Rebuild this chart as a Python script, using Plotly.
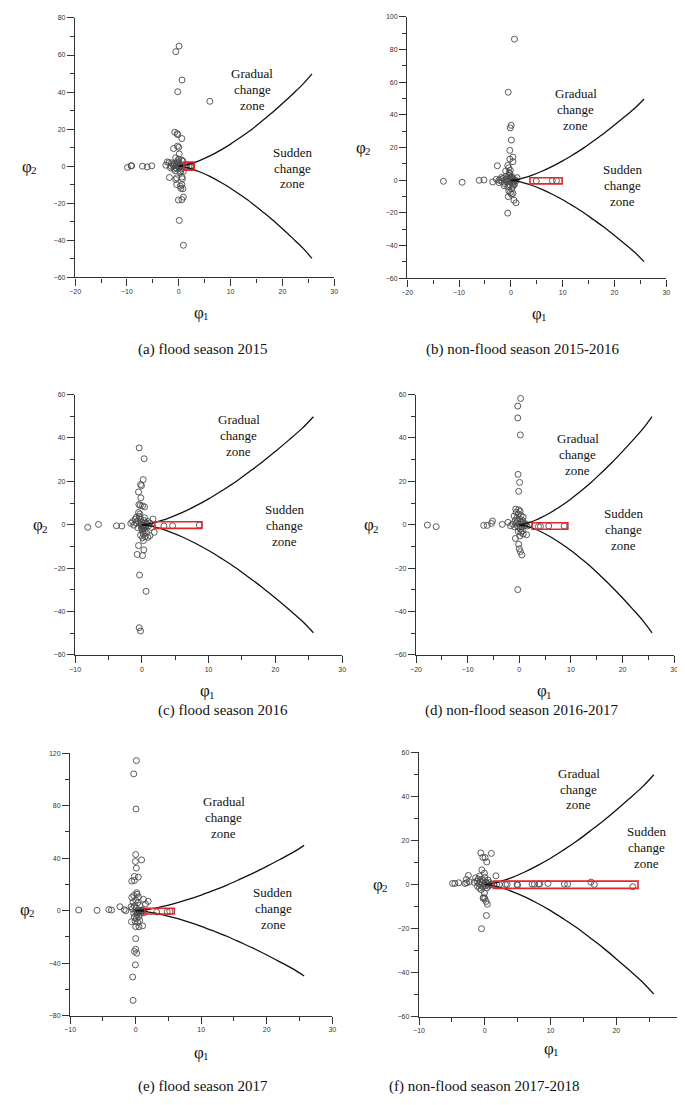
import plotly.graph_objects as go

W, H = 685, 1105

# ---------------- data ----------------
PTS_A = [(0.06, 64.8), (-0.57, 61.8), (0.63, 46.5), (-0.2, 40.2), (6.0, 35.0), (-0.76, 18.3),
         (-0.3, 17.6), (-0.2, 17.0), (0.6, 14.9), (-1.0, 9.5), (-0.25, 10.8), (0.0, 10.2),
         (0.1, 6.6), (-0.6, 4.5), (0.0, 3.8), (0.6, 3.2), (0.8, 2.7),
         (-2.2, 2.3), (-2.5, 0.5), (-1.6, -0.9), (-1.2, 0.9), (-0.8, 1.3), (-0.5, 0.4), (-0.3, 2.0),
         (0.1, -0.5), (0.3, 1.0), (0.5, -1.5), (-1.0, 0.2), (-1.4, 1.8), (-0.6, -0.8), (-0.2, 3.0),
         (0.2, 0.3), (0.4, -2.6), (-0.9, -1.6), (-0.4, -1.2), (0.0, 1.5), (0.3, -3.3), (-0.7, -2.5),
         (-0.1, -0.3), (0.6, -0.6), (0.9, -2.8), (-1.9, 1.9), (-1.5, 0.0),
         (-1.8, -6.1), (-0.6, -7.2), (-0.4, -6.3), (0.6, -5.9), (0.7, -6.8), (-0.4, -9.9),
         (0.3, -10.8), (0.6, -10.0), (0.8, -12.2), (0.4, -12.0), (0.9, -16.7), (0.6, -18.1),
         (-0.06, -18.3), (0.1, -29.3), (0.9, -42.7),
         (-9.9, -0.7), (-9.2, 0.2), (-9.1, 0.2), (-7.0, 0.0), (-6.1, -0.4), (-5.2, 0.2),
         (1.5, 0.0), (1.9, -0.2), (2.2, -0.2), (2.4, 0.0)]

PTS_B = [(0.7, 86.4), (-0.5, 53.9), (0.06, 33.7), (-0.1, 32.1), (0.1, 24.6), (-0.2, 18.3),
         (0.4, 14.2), (-0.2, 13.0), (0.4, 11.4), (-0.6, 9.1), (-0.4, 7.7), (-2.6, 8.9),
         (-1.0, 5.7), (-0.3, 4.7), (-0.1, 6.1), (1.2, 1.6), (0.6, -2.4), (-0.4, -6.5),
         (-0.1, -7.5), (0.1, -8.5), (0.4, -8.1), (-0.5, -10.0), (0.6, -12.2), (1.0, -13.8),
         (-0.6, -20.1), (-13.0, -0.6), (-9.4, -1.2), (-6.1, 0.0), (-5.2, 0.2), (-3.5, -1.0),
         (-2.8, 0.6), (-2.3, 0.0), (4.9, -0.4), (8.0, -0.2), (8.8, -0.2),
         (-2.0, 0.5), (-1.7, -0.8), (-1.5, 1.2), (-1.2, -2.0), (-1.0, 0.3), (-0.9, 2.5),
         (-0.8, -1.2), (-0.7, 1.0), (-0.5, -0.4), (-0.4, 3.0), (-0.3, 0.8), (-0.2, -2.8),
         (-0.1, 1.8), (0.0, -0.5), (0.1, 0.4), (0.2, 2.2), (0.3, -1.6), (0.4, -3.5), (0.5, 0.6),
         (0.6, -0.9), (0.8, 0.2), (-0.6, -4.0), (0.2, -5.0), (-1.3, -3.3), (-0.2, 4.0),
         (0.7, -2.6), (1.0, -0.3), (-2.3, -1.4), (-1.8, 1.8), (0.3, 1.2)]

PTS_C = [(-0.4, 35.4), (0.34, 30.4), (0.2, 20.8), (-0.2, 18.5), (-0.05, 18.0), (-0.5, 15.1),
         (-0.15, 12.4), (-0.44, 9.3), (-0.24, 8.9), (0.1, 8.7), (0.4, 8.2), (-0.5, 5.6),
         (-0.3, 5.0), (1.66, 2.6), (-1.66, 0.6), (-1.4, 1.4), (-1.0, 2.6), (-0.5, -9.6),
         (0.3, -11.6), (-0.7, -13.7), (0.1, -14.2), (-0.34, -23.2), (0.63, -30.7), (-0.4, -47.5),
         (-0.2, -49.0), (-8.1, -1.2), (-6.5, 0.15), (-3.8, -0.5), (-3.0, -0.6), (3.3, -0.6),
         (4.6, -0.5), (8.6, -0.15), (1.0, -0.5), (1.4, -1.2), (1.85, -3.5), (0.9, -5.8),
         (1.2, -5.0), (0.24, -7.3),
         (-0.8, 3.5), (-0.6, 1.8), (-0.4, 3.8), (-0.3, 0.5), (-0.2, 2.6), (-0.1, -1.0),
         (0.0, 1.2), (0.0, -2.0), (0.1, -3.0), (0.2, -0.3), (0.2, -4.2), (0.3, -1.5), (0.3, 2.0),
         (0.4, -2.6), (0.5, 0.8), (0.5, -5.5), (0.6, -0.8), (0.7, -3.8), (0.8, 0.3), (-0.6, -1.4),
         (-0.9, 0.9), (-1.2, -0.2), (0.1, -6.0), (-0.2, -4.8), (0.9, 1.5), (1.2, 0.8), (0.4, 3.2),
         (0.15, -1.0), (0.25, -1.8), (0.35, -0.6), (-0.1, 0.3)]

PTS_D = [(0.25, 58.2), (-0.3, 54.7), (-0.3, 49.2), (0.2, 41.4), (-0.25, 23.2), (0.06, 19.5),
         (-0.13, 15.4), (-0.7, 7.2), (-0.13, 6.9), (0.76, 3.5), (-0.76, -6.3), (-0.13, -9.0),
         (0.0, -11.1), (0.2, -12.4), (0.5, -13.9), (-0.3, -29.9), (-17.8, -0.15), (-16.1, -0.9),
         (-6.9, -0.3), (-6.2, -0.3), (-5.4, 0.6), (-5.2, 1.7), (-3.3, 0.15), (-2.2, 1.1),
         (-1.7, -0.5), (3.7, -0.8), (4.1, -0.8), (5.7, -0.6), (8.7, -0.6), (1.4, -4.6),
         (0.76, -4.3), (0.3, -3.5), (1.9, -0.15),
         (-1.0, 4.0), (-0.8, 2.0), (-0.6, 0.8), (-0.5, 3.0), (-0.4, -0.5), (-0.3, 1.6),
         (-0.2, 5.0), (-0.1, -1.2), (0.0, 0.5), (0.1, 2.6), (0.2, -2.0), (0.3, 0.2), (0.4, 1.2),
         (0.5, -0.9), (0.6, -2.8), (0.8, 0.6), (1.0, -0.3), (1.2, 0.4), (-1.3, 0.3), (-0.9, -1.0),
         (0.15, 6.2), (-0.6, 5.8), (0.35, 4.2), (0.1, -5.2), (-0.2, -3.2), (0.7, 1.8), (1.5, -0.6)]

PTS_E = [(0.1, 114.4), (-0.3, 104.3), (0.05, 77.5), (0.0, 42.8), (0.9, 38.7), (-0.05, 37.5),
         (0.1, 32.4), (-0.2, 26.1), (0.4, 25.6), (-0.6, 22.5), (-0.2, 23.0), (0.15, 13.7),
         (1.2, 8.6), (1.9, 7.1), (1.5, 5.1), (-0.65, -8.4), (0.0, -12.2), (0.5, -12.2),
         (1.05, -11.6), (0.0, -21.3), (0.0, -29.4), (0.15, -32.4), (-0.2, -31.1), (-0.05, -41.3),
         (-0.45, -50.6), (-0.4, -68.4), (-8.7, 0.5), (-5.9, 0.25), (-4.1, 0.8), (-3.7, 0.5),
         (-2.4, 3.0), (-1.75, 0.8), (-1.5, 0.0), (3.2, -1.0), (4.8, -0.8), (5.2, -0.5),
         (-0.6, 10.0), (-0.3, 11.5), (0.2, 12.5), (0.4, 10.5), (-0.4, 6.5), (0.0, 8.0),
         (0.3, 6.0), (0.6, 4.0), (-0.2, 3.5), (0.1, 2.0), (-0.5, 1.5), (0.4, 0.5), (0.0, -1.0),
         (0.2, -3.0), (-0.3, -2.0), (0.5, -4.5), (0.1, -6.0), (-0.2, -5.0), (0.6, -7.5),
         (0.3, -9.0), (0.8, -2.0), (1.0, 0.5), (1.3, -1.5), (-0.7, 3.0), (-0.1, -8.0),
         (0.35, -1.5), (0.5, -0.8), (0.7, -0.5), (0.9, -0.3), (1.1, -0.2), (0.25, -0.9)]

PTS_F = [(-0.6, 14.3), (1.0, 14.1), (-0.3, 12.3), (0.05, 12.2), (0.3, 10.2), (-0.45, 6.6),
         (-0.05, 5.1), (1.7, 3.9), (-2.5, 4.1), (-2.8, 2.3), (-4.9, 0.45), (-4.55, 0.45),
         (-3.95, 0.75), (-3.0, 0.45), (-2.75, 0.75), (-2.35, 1.2), (-1.6, 0.9), (-0.55, -2.4),
         (-0.2, -5.9), (-0.05, -3.9), (0.2, -7.7), (-0.25, -6.3), (0.25, -14.1), (-0.5, -20.1),
         (1.8, 0.0), (2.2, 0.0), (3.15, 0.0), (3.4, 0.0), (4.9, 0.0), (5.0, -0.3), (7.2, 0.15),
         (7.55, 0.15), (8.2, 0.15), (8.35, 0.3), (9.6, 0.45), (12.1, 0.15), (12.6, 0.15),
         (16.15, 1.05), (16.65, 0.0), (22.5, -1.05), (0.6, 0.0), (1.0, 0.0), (1.4, 0.0),
         (-1.4, 3.0), (-1.2, 1.5), (-1.0, 2.5), (-0.9, 0.4), (-0.8, 3.8), (-0.7, 1.2),
         (-0.6, -0.4), (-0.5, 2.2), (-0.4, 0.8), (-0.3, -1.0), (-0.2, 1.8), (-0.1, 0.2),
         (0.0, 3.2), (0.1, -0.6), (0.2, 1.0), (0.3, -1.6), (0.4, 0.4), (0.5, 2.0), (0.6, -0.8),
         (-1.1, -0.8), (-0.8, -1.6), (0.7, 0.8), (0.4, -9.0), (0.0, -6.3)]

# boundary curves (gradual / sudden change zones)
CURVE_X = [0, 1, 2, 3, 4, 6, 8, 10, 12, 14, 16, 18, 20, 22, 24, 25.7]
CURVE_UPPER = [0, 0.38, 1.07, 1.96, 3.02, 5.54, 8.54, 11.9, 15.7, 19.7, 24.2, 28.8, 33.8, 39.0, 44.4, 49.8]
CURVE_LOWER = [0, -0.38, -1.07, -1.96, -3.02, -5.54, -8.54, -11.9, -15.7, -19.7, -24.2, -28.8, -33.8, -39.0, -44.4, -49.8]

# red boxes (x0, x1, y0, y1)
BOXES = [(1.0, 3.0, -2.2, 2.2), (3.7, 9.9, -2.2, 1.6), (1.95, 9.0, -1.7, 1.4),
         (2.5, 9.4, -2.1, 0.9), (1.4, 5.9, -2.5, 1.8), (1.3, 23.3, -1.8, 1.5)]

CAPTIONS = ["(a) flood season 2015", "(b) non-flood season 2015-2016",
            "(c) flood season 2016", "(d) non-flood season 2016-2017",
            "(e) flood season 2017", "(f) non-flood season 2017-2018"]
GRADUAL_LINES = ["Gradual", "change", "zone"]
SUDDEN_LINES = ["Sudden", "change", "zone"]

X_RANGES = [(-20, 30), (-20, 30), (-10, 30), (-20, 30), (-10, 30), (-10, 30)]
Y_RANGES = [(-60, 80), (-60, 100), (-60, 60), (-60, 60), (-80, 120), (-60, 60)]
Y_DTICK = [20, 20, 20, 20, 40, 20]

# ---------------- layout geometry (pixels) ----------------
PLOT_BOX = [(62, 325, 6, 267), (399, 662, 5, 268), (62, 333, 385, 647),
            (408, 670, 385, 647), (57, 323, 746, 1010), (411, 678, 745, 1011)]
PHI2_POS = [(17, 155), (356, 136), (28, 516), (364, 516), (15, 903), (373, 878)]
PHI1_POS = [(192, 302), (535, 303), (198, 683), (540, 683), (192, 1047), (547, 1043)]
CAP_POS = [(192, 340), (516, 340), (212, 703), (515, 703), (192, 1081), (477, 1081)]
GRAD_POS = [(242, 78), (570, 98), (228, 426), (572, 445), (213, 811), (573, 782)]
SUDD_POS = [(283, 157), (618, 175), (275, 517), (619, 521), (263, 902), (642, 841)]

PANELS = [PTS_A, PTS_B, PTS_C, PTS_D, PTS_E, PTS_F]


def px(xp):
    return xp / W


def py(yp):
    return 1 - yp / H


SERIF = "Liberation Serif, Times New Roman, serif"
SANS = "Liberation Sans, Arial, sans-serif"
AX = "#333333"

fig = go.Figure()
annotations = []
layout_axes = {}


def ann(x, y, text, size, anchor="center"):
    return dict(xref="paper", yref="paper", x=px(x), y=py(y), text=text,
                showarrow=False, xanchor=anchor, yanchor="middle", borderpad=0,
                font=dict(family=SERIF, size=size, color="#111111"))


for i, pts in enumerate(PANELS):
    n = "" if i == 0 else str(i + 1)
    xa, ya = "x" + n, "y" + n
    fig.add_trace(go.Scatter(
        x=[p[0] for p in pts], y=[p[1] for p in pts], mode="markers",
        xaxis=xa, yaxis=ya, showlegend=False, hoverinfo="skip",
        marker=dict(symbol="circle-open", size=6, color="#4a4a4a", line=dict(width=0.9))))
    for cy in (CURVE_UPPER, CURVE_LOWER):
        fig.add_trace(go.Scatter(
            x=CURVE_X, y=cy, mode="lines", xaxis=xa, yaxis=ya, showlegend=False,
            hoverinfo="skip", line=dict(color="#111111", width=1.3, shape="spline")))
    bx = BOXES[i]
    fig.add_shape(type="rect", xref=xa, yref=ya, x0=bx[0], x1=bx[1], y0=bx[2], y1=bx[3],
                  line=dict(color="#e3262b", width=1.6), fillcolor="rgba(0,0,0,0)")

    l, r, t, b = PLOT_BOX[i]
    common = dict(showgrid=False, zeroline=False, showline=True, linecolor=AX, linewidth=1.4,
                  ticks="outside", ticklen=7, tickwidth=1.1, tickcolor=AX,
                  tickfont=dict(family=SANS, size=7, color="#333333"), fixedrange=True)
    layout_axes["xaxis" + n] = dict(common, domain=[px(l), px(r)], anchor=ya,
                                    range=list(X_RANGES[i]), tick0=0, dtick=10,
                                    minor=dict(ticks="outside", ticklen=4, tickwidth=1.1,
                                               tickcolor=AX, dtick=5, tick0=0))
    layout_axes["yaxis" + n] = dict(common, domain=[py(b), py(t)], anchor=xa,
                                    range=list(Y_RANGES[i]), tick0=0, dtick=Y_DTICK[i],
                                    minor=dict(ticks="outside", ticklen=4, tickwidth=1.1,
                                               tickcolor=AX, dtick=Y_DTICK[i] / 2, tick0=0))

    # axis titles: φ with a lowered subscript digit placed right after it
    x2, y2 = PHI2_POS[i]
    annotations.append(ann(x2 + 2, y2, "φ", 17, "right"))
    annotations.append(ann(x2 - 1, y2 + 4, "2", 11, "left"))
    x1, y1 = PHI1_POS[i]
    annotations.append(ann(x1 + 2, y1, "φ", 17, "right"))
    annotations.append(ann(x1 - 1, y1 + 4, "1", 11, "left"))
    # caption
    annotations.append(ann(CAP_POS[i][0], CAP_POS[i][1], CAPTIONS[i], 15))
    # zone labels, one line each
    for k, line in enumerate(GRADUAL_LINES):
        annotations.append(ann(GRAD_POS[i][0], GRAD_POS[i][1] + (k - 1) * 16, line, 13))
    for k, line in enumerate(SUDDEN_LINES):
        annotations.append(ann(SUDD_POS[i][0], SUDD_POS[i][1] + (k - 1) * 16, line, 13))

fig.update_layout(width=W, height=H, margin=dict(l=0, r=0, t=0, b=0),
                  paper_bgcolor="white", plot_bgcolor="white",
                  annotations=annotations, showlegend=False, **layout_axes)

fig.write_html("out.html")
